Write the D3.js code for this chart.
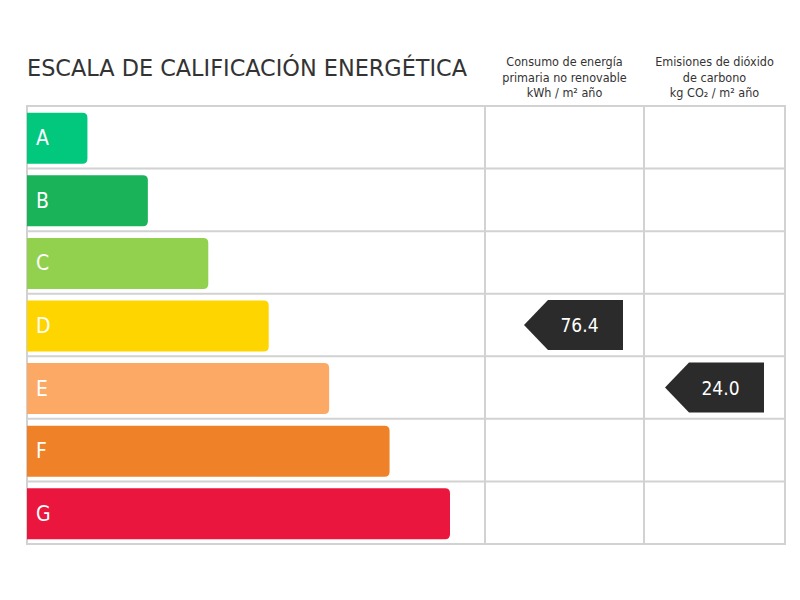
<!DOCTYPE html>
<html>
<head>
<meta charset="utf-8">
<script src="https://cdn.jsdelivr.net/npm/d3@7"></script>
<style>
  body { margin: 0; background: #fff; }
  svg { display: block; font-family: "DejaVu Sans Condensed", "Roboto", sans-serif; }
</style>
</head>
<body>
<svg id="chart" width="800" height="600"></svg>
<script>
// energy classes, top to bottom
var grades = ["A", "B", "C", "D", "E", "F", "G"]
var gradeColors = ["#02c87e", "#1bb35a", "#92d14e", "#ffd500", "#fca965", "#ef8228", "#eb163e"]
// relative bar length (1 = shortest)
var gradeSteps = [1, 2, 3, 4, 5, 6, 7]

var columnTitles = [
    ["Consumo de energía", "primaria no renovable", "kWh / m² año"],
    ["Emisiones de dióxido", "de carbono", "kg CO₂ / m² año"]
]
var ratingGrades = ["D", "E"]
var ratingValues = [76.4, 24.0]

var svg = d3.select("#chart")
var gLeft = 27, gRight = 785, gTop = 106, gBottom = 544
var col1 = 485, col2 = 644
var lineColor = "#d2d2d2"

var y = d3.scaleBand().domain(grades).range([gTop, gBottom]).paddingInner(0).paddingOuter(0)
var w = d3.scaleLinear().domain([0, 7]).range([0, 423])
var cols = d3.scaleOrdinal().domain([0, 1]).range([[col1, col2], [col2, gRight]])

// title
svg.append("text")
    .attr("x", gLeft)
    .attr("y", 76)
    .attr("font-size", 23.5)
    .attr("fill", "#333")
    .attr("textLength", 440)
    .attr("lengthAdjust", "spacingAndGlyphs")
    .text("ESCALA DE CALIFICACIÓN ENERGÉTICA")

// column headers
columnTitles.forEach(function (lines, i) {
    var c = cols(i)
    svg.append("g").selectAll("text")
        .data(lines)
        .join("text")
        .attr("x", (c[0] + c[1]) / 2)
        .attr("y", (d, j) => 66 + j * 15.5)
        .attr("text-anchor", "middle")
        .attr("font-size", 12.5)
        .attr("fill", "#333")
        .text(d => d)
})

// grid
var grid = svg.append("g").attr("stroke", lineColor).attr("stroke-width", 2).attr("fill", "none")
grid.selectAll("line.row")
    .data(grades.slice(1))
    .join("line")
    .attr("class", "row")
    .attr("x1", gLeft).attr("x2", gRight)
    .attr("y1", d => y(d)).attr("y2", d => y(d))
grid.selectAll("line.col")
    .data([col1, col2])
    .join("line")
    .attr("class", "col")
    .attr("x1", d => d).attr("x2", d => d)
    .attr("y1", gTop).attr("y2", gBottom)
grid.append("rect")
    .attr("x", gLeft).attr("y", gTop)
    .attr("width", gRight - gLeft).attr("height", gBottom - gTop)

// bars: square left edge, rounded right corners
var barH = 51, r = 5
var barPath = function (x0, y0, len) {
    return "M" + x0 + "," + y0 +
        "H" + (x0 + len - r) +
        "Q" + (x0 + len) + "," + y0 + " " + (x0 + len) + "," + (y0 + r) +
        "V" + (y0 + barH - r) +
        "Q" + (x0 + len) + "," + (y0 + barH) + " " + (x0 + len - r) + "," + (y0 + barH) +
        "H" + x0 + "Z"
}
var bars = svg.append("g").selectAll("g")
    .data(grades)
    .join("g")
bars.append("path")
    .attr("d", (d, i) => barPath(gLeft, y(d) + (y.bandwidth() - barH) / 2 + 1, w(gradeSteps[i])))
    .attr("fill", (d, i) => gradeColors[i])
bars.append("text")
    .attr("x", gLeft + 9)
    .attr("y", d => y(d) + y.bandwidth() / 2 + 8)
    .attr("font-size", 21)
    .attr("fill", "#fff")
    .text(d => d)

// rating arrows
var arrW = 99, arrH = 50, tip = 24
ratingValues.forEach(function (v, i) {
    var c = cols(i)
    var x1 = c[1] - 21, x0 = x1 - arrW
    var yc = y(ratingGrades[i]) + y.bandwidth() / 2
    svg.append("path")
        .attr("d", "M" + x0 + "," + yc +
            "L" + (x0 + tip) + "," + (yc - arrH / 2) +
            "H" + x1 + "V" + (yc + arrH / 2) +
            "H" + (x0 + tip) + "Z")
        .attr("fill", "#2b2b2b")
    svg.append("text")
        .attr("x", x0 + tip + (arrW - tip) / 2 - 6)
        .attr("y", yc + 7)
        .attr("text-anchor", "middle")
        .attr("font-size", 19)
        .attr("fill", "#fff")
        .text(d3.format(".1f")(v))
})
</script>
</body>
</html>
